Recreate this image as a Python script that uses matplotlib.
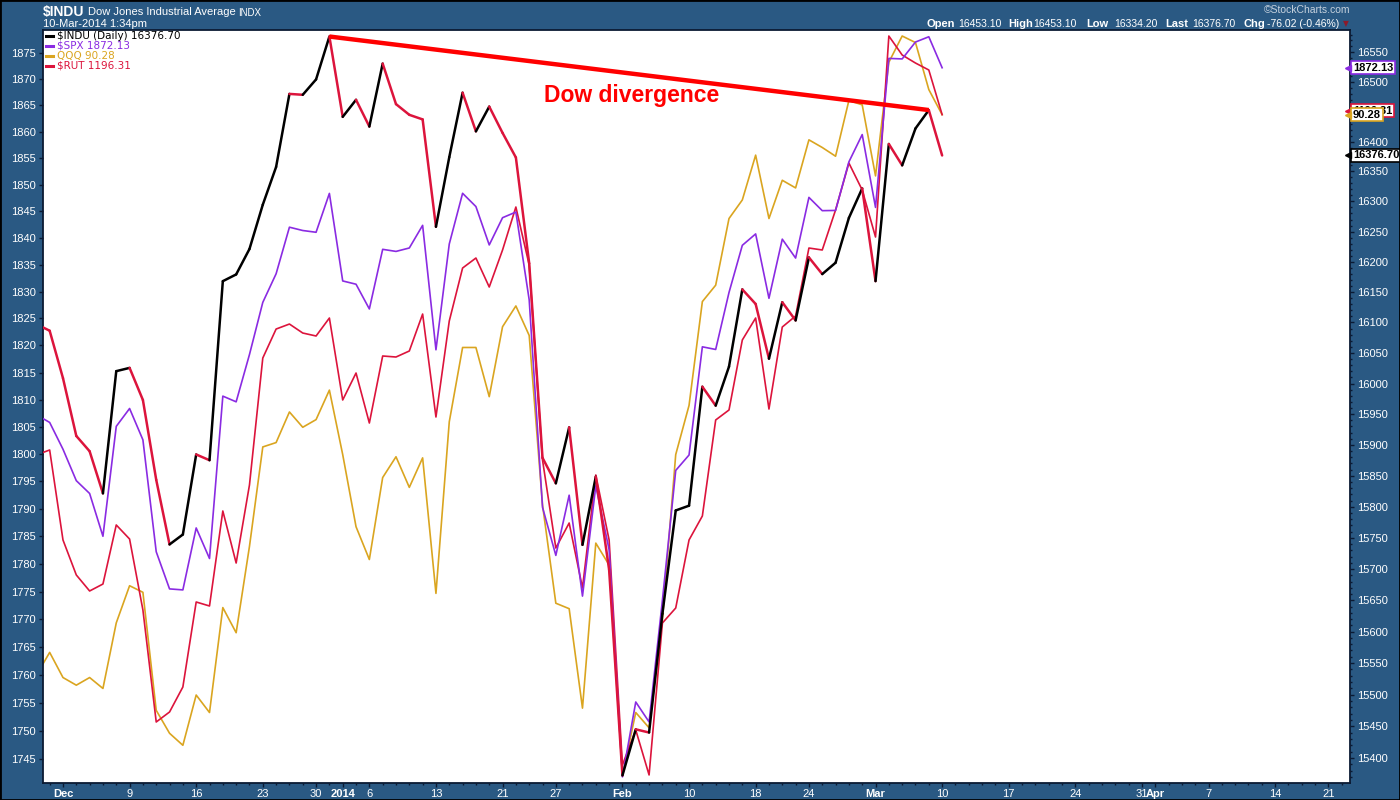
import numpy as np
import pandas as pd
import matplotlib
matplotlib.use("Agg")
import matplotlib.pyplot as plt
from matplotlib import transforms
from matplotlib.collections import LineCollection
from matplotlib.patches import Rectangle
from matplotlib.ticker import FixedLocator, NullLocator, FuncFormatter

W, H = 1400, 800
BG = "#2a5983"
FRAME = "#0b1a33"
C_SPX = "#8a2be2"
C_QQQ = "#daa520"
C_RUT = "#dc143c"
C_DOWN = "#dc143c"
ARIAL = ["Liberation Sans", "DejaVu Sans"]

# trading calendar (Nov 27 2013 .. Apr 25 2014)
HOLIDAYS = ["2013-11-28", "2013-12-25", "2014-01-01", "2014-01-20", "2014-02-17", "2014-04-18"]
FIRST_DAY, LAST_DAY = "2013-11-27", "2014-04-25"

# --- daily closes, Nov 27 2013 .. Mar 10 2014 (last = intraday) ---
DOW = [16097.33, 16086.41, 16008.77, 15914.62, 15889.77, 15821.63, 16020.20,
       16025.53, 15973.13, 15843.53, 15739.43, 15755.36, 15884.57, 15875.26,
       16167.97, 16179.08, 16221.14, 16294.61, 16357.55, 16479.88, 16478.41,
       16504.29, 16576.66, 16441.35, 16469.99, 16425.10, 16530.94, 16462.74,
       16444.76, 16437.05, 16257.94, 16373.86, 16481.94, 16417.01, 16458.56,
       16414.44, 16373.34, 16197.35, 15879.11, 15837.88, 15928.56, 15738.79,
       15848.61, 15698.85, 15372.80, 15445.24, 15440.23, 15628.53, 15794.08,
       15801.79, 15994.77, 15963.94, 16027.59, 16154.39, 16130.40, 16040.56,
       16133.23, 16103.30, 16207.14, 16179.66, 16198.41, 16272.65, 16321.71,
       16168.03, 16395.88, 16360.18, 16421.89, 16452.72, 16376.70]
SPX = [1807.23, 1805.81, 1800.90, 1795.15, 1792.81, 1785.03, 1805.09,
       1808.37, 1802.62, 1782.22, 1775.50, 1775.32, 1786.54, 1781.00,
       1810.65, 1809.60, 1818.32, 1827.99, 1833.32, 1842.02, 1841.40,
       1841.07, 1848.36, 1831.98, 1831.37, 1826.77, 1837.88, 1837.49,
       1838.13, 1842.37, 1819.20, 1838.88, 1848.38, 1845.89, 1838.70,
       1843.80, 1844.86, 1828.46, 1790.29, 1781.56, 1792.50, 1774.20,
       1794.19, 1782.59, 1741.89, 1755.20, 1751.64, 1773.43, 1797.02,
       1799.84, 1819.75, 1819.26, 1829.83, 1838.63, 1840.76, 1828.75,
       1839.78, 1836.25, 1847.61, 1845.12, 1845.16, 1854.29, 1859.45,
       1845.73, 1873.91, 1873.81, 1877.03, 1878.04, 1872.13]
QQQ = [85.15, 85.36, 85.13, 85.06, 85.13, 85.03, 85.63,
       85.97, 85.91, 84.83, 84.62, 84.51, 84.97, 84.81,
       85.77, 85.54, 86.33, 87.24, 87.28, 87.56, 87.42,
       87.49, 87.76, 87.17, 86.51, 86.21, 86.96, 87.15,
       86.87, 87.14, 85.90, 87.47, 88.15, 88.15, 87.70,
       88.34, 88.53, 88.26, 86.71, 85.81, 85.76, 84.85,
       86.36, 86.16, 84.24, 84.81, 84.67, 85.66, 87.17,
       87.62, 88.57, 88.72, 89.33, 89.50, 89.91, 89.33,
       89.68, 89.61, 90.05, 89.98, 89.90, 90.41, 90.37,
       89.72, 90.76, 91.00, 90.94, 90.51, 90.28]
RUT = [1142.53, 1143.32, 1129.10, 1123.57, 1121.04, 1122.14, 1131.47,
       1129.25, 1118.04, 1100.34, 1101.92, 1105.87, 1119.30, 1118.67,
       1133.68, 1125.46, 1137.79, 1157.85, 1162.43, 1163.22, 1161.80,
       1161.33, 1164.17, 1151.22, 1155.48, 1147.58, 1158.17, 1158.01,
       1158.96, 1164.80, 1148.53, 1163.70, 1172.07, 1173.65, 1169.07,
       1174.92, 1181.71, 1172.55, 1141.74, 1127.83, 1131.78, 1121.51,
       1139.37, 1129.10, 1093.55, 1099.08, 1091.97, 1115.98, 1118.35,
       1129.10, 1132.89, 1148.06, 1149.64, 1160.70, 1164.17, 1149.79,
       1162.75, 1164.49, 1175.23, 1174.92, 1181.24, 1188.66, 1184.40,
       1176.97, 1208.73, 1205.73, 1204.46, 1203.36, 1196.31]

HEADER_KEYS = ["Open", "High", "Low", "Last", "Chg"]
HEADER_VALS = ["16453.10", "16453.10", "16334.20", "16376.70", "-76.02 (-0.46%)"]
DIVERGENCE_FROM, DIVERGENCE_TO = "2013-12-31", "2014-03-07"


def px(x, y):
    return x / W, 1 - y / H


days = pd.bdate_range(FIRST_DAY, LAST_DAY)
days = days[~days.isin(pd.to_datetime(HOLIDAYS))]
xs = np.arange(len(DOW))

fig = plt.figure(figsize=(W / 100, H / 100), dpi=100, facecolor=BG)
ax = fig.add_axes([43 / W, 1 - 783 / H, (1350 - 43) / W, (783 - 30) / H])
ax.set_facecolor("white")
ax_r = ax.twinx()
ax_s = ax.twinx()
ax_d = ax.twinx()

ax.plot(xs, QQQ, color=C_QQQ, lw=1.2, zorder=2)
ax_r.plot(xs, RUT, color=C_RUT, lw=1.2, zorder=2)
ax_s.plot(xs, SPX, color=C_SPX, lw=1.2, zorder=2)

pts = np.column_stack([xs, DOW])
segs = np.stack([pts[:-1], pts[1:]], axis=1)
cols = [C_DOWN if b < a else "black" for a, b in zip(DOW[:-1], DOW[1:])]
ax_d.add_collection(LineCollection(segs, colors=cols, linewidths=1.8,
                                   capstyle="round", joinstyle="round", zorder=3))

# divergence trendline
i0 = int(np.where(days == pd.Timestamp(DIVERGENCE_FROM))[0][0])
i1 = int(np.where(days == pd.Timestamp(DIVERGENCE_TO))[0][0])
ax_d.plot([i0, i1], [DOW[i0], DOW[i1]], color="#ff0000", lw=3.2,
          solid_capstyle="butt", zorder=5)
ax_d.text(44.7, 16478, "Dow divergence", color="#ff0000", fontsize=16.5,
          fontweight="bold", family=ARIAL, ha="center", va="center", zorder=6)

# scales
ax.set_ylim(84.165, 91.055)
ax_r.set_ylim(1090.70, 1209.68)
for a in (ax_s, ax_d):
    a.set_yscale("log")
ax_s.set_ylim(1740.80, 1879.33)
ax_d.set_ylim(15360.9, 16587.7)
ax.set_xlim(0.5, 98.62)

for a in (ax, ax_r, ax_s, ax_d):
    for sp in a.spines.values():
        sp.set_visible(False)
for sp in ax.spines.values():
    sp.set_visible(True)
    sp.set_color(FRAME)
    sp.set_linewidth(1.3)

ax.tick_params(axis="y", left=False, right=False, labelleft=False, labelright=False)
ax_r.tick_params(axis="y", left=False, right=False, labelleft=False, labelright=False)

ax_s.yaxis.tick_left()
ax_s.yaxis.set_major_locator(FixedLocator(np.arange(1745, 1880, 5)))
ax_s.yaxis.set_minor_locator(NullLocator())
ax_s.yaxis.set_major_formatter(FuncFormatter(lambda v, p: f"{v:.0f}"))
ax_s.tick_params(axis="y", which="major", length=3, width=1, color=FRAME,
                 labelcolor="white", labelsize=8, pad=2)

ax_d.yaxis.tick_right()
ax_d.yaxis.set_major_locator(FixedLocator(np.arange(15400, 16600, 50)))
ax_d.yaxis.set_minor_locator(FixedLocator(np.arange(15370, 16590, 10)))
ax_d.yaxis.set_major_formatter(FuncFormatter(lambda v, p: f"{v:.0f}"))
ax_d.yaxis.set_minor_formatter(FuncFormatter(lambda v, p: ""))
ax_d.tick_params(axis="y", which="major", length=3, width=1, color=FRAME,
                 labelcolor="white", labelsize=8, pad=2)
ax_d.tick_params(axis="y", which="minor", length=1.5, width=1, color=FRAME)
for t in ax_s.get_yticklabels() + ax_d.get_yticklabels():
    t.set_family(ARIAL)

# x axis: week starts and month starts
majors, labels, bolds = [], [], []
for i in range(1, len(days)):
    d, p = days[i], days[i - 1]
    if d.month != p.month:
        majors.append(i)
        labels.append(str(d.year) if d.year != p.year else d.strftime("%b"))
        bolds.append(True)
    elif d.isocalendar()[1] != p.isocalendar()[1]:
        majors.append(i)
        labels.append(str(d.day))
        bolds.append(False)
ax.xaxis.set_major_locator(FixedLocator(majors))
ax.set_xticklabels(labels)
ax.xaxis.set_minor_locator(FixedLocator(np.arange(len(days))))
ax.tick_params(axis="x", which="major", length=3, width=1, color=FRAME,
               labelcolor="white", labelsize=8, pad=1.5)
ax.tick_params(axis="x", which="minor", length=1.5, width=1, color=FRAME)
for t, b in zip(ax.get_xticklabels(), bolds):
    t.set_family(ARIAL)
    if b:
        t.set_fontweight("bold")

# legend (top-left inside plot)
leg = [("$INDU (Daily) 16376.70", "black"), ("$SPX 1872.13", C_SPX),
       ("QQQ 90.28", C_QQQ), ("$RUT 1196.31", C_RUT)]
for k, (txt, c) in enumerate(leg):
    y = 36 + 10 * k
    fig.add_artist(plt.Line2D([px(46, y)[0], px(53, y)[0]], [px(46, y)[1]] * 2,
                              color=c, lw=2.2))
    fig.text(*px(57, y), txt, color=c, fontsize=7.5, family="DejaVu Sans",
             va="center", ha="left")


# value tags at the right edge
def value_tag(ax_val, value, txt, edge, z, dy=0):
    tr = transforms.blended_transform_factory(ax_d.transAxes, ax_val.transData)
    tr = tr + transforms.ScaledTranslation(0, dy / 100, fig.dpi_scale_trans)
    ax_d.text(1.0022, value, txt, transform=tr, ha="left", va="center",
              fontsize=8, fontweight="bold", family=ARIAL, color="black",
              zorder=z, clip_on=False,
              bbox=dict(boxstyle="square,pad=0.15", fc="white", ec=edge, lw=1.2))
    ax_d.plot([0.9988], [value], marker="<", ms=4.5, color=edge, transform=tr,
              clip_on=False, zorder=z)


value_tag(ax_s, SPX[-1], f"{SPX[-1]:.2f}", C_SPX, 10)
value_tag(ax_r, RUT[-1], f"{RUT[-1]:.2f}", C_RUT, 11, dy=4)
value_tag(ax, QQQ[-1], f"{QQQ[-1]:.2f}", C_QQQ, 12)
value_tag(ax_d, DOW[-1], f"{DOW[-1]:.2f}", "black", 13)

# header
fig.text(*px(43, 12), "$INDU", color="white", fontsize=10, fontweight="bold",
         family=ARIAL, va="center")
fig.text(*px(88, 12), "Dow Jones Industrial Average", color="white", fontsize=8,
         family=ARIAL, va="center")
fig.text(*px(238, 12.5), "INDX", color="white", fontsize=7, family=ARIAL, va="center")
fig.text(*px(43, 24), "10-Mar-2014 1:34pm", color="white", fontsize=8,
         family=ARIAL, va="center")
fig.text(*px(1350, 10), "\u00a9StockCharts.com", color="#c6d2de", fontsize=7.5,
         family=ARIAL, va="center", ha="right")
key_x = [926, 1008, 1086, 1165, 1243]
val_x = [958, 1033, 1114, 1192, 1267]
for k, v, kx, vx in zip(HEADER_KEYS, HEADER_VALS, key_x, val_x):
    fig.text(*px(kx, 24), k, color="white", fontsize=8, fontweight="bold",
             family=ARIAL, va="center")
    fig.text(*px(vx, 24), v, color="white", fontsize=7.5, family=ARIAL, va="center")
fig.text(*px(1343, 24), "\u25bc", color="#8b1a2b", fontsize=5.5,
         family="DejaVu Sans", va="center")

fig.patches.append(Rectangle((0, 0), 1, 1, transform=fig.transFigure, fill=False,
                             ec="black", lw=2))

fig.savefig("out.png", dpi=100, facecolor=BG)
